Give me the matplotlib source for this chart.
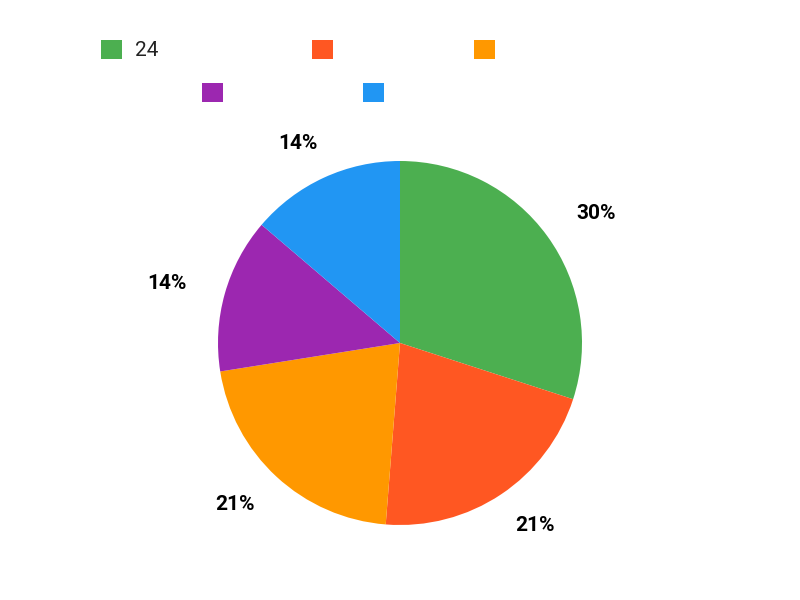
import numpy as np
import matplotlib
matplotlib.use("Agg")
import matplotlib.pyplot as plt
from matplotlib.patches import Patch

labels = ["24", "", "", "", ""]
values = [24, 17, 17, 11, 11]
colors = ["#4CAF50", "#FF5722", "#FF9800", "#9C27B0", "#2196F3"]

plt.rcParams['font.family'] = ['Roboto', 'DejaVu Sans']

W, H = 800, 600
fig = plt.figure(figsize=(8, 6), dpi=100)
cx, cy, r = 400, 343, 182
ax = fig.add_axes([(cx - r) / W, (H - cy - r) / H, 2 * r / W, 2 * r / H])
wedges, texts, autotexts = ax.pie(
    values, colors=colors, startangle=90, counterclock=False,
    autopct=lambda p: f"{p:.0f}%", pctdistance=1.2,
    wedgeprops=dict(linewidth=0), radius=1.0)
for t in autotexts:
    t.set_fontsize(15)
    t.set_fontweight('bold')
    t.set_color('#000000')
ax.set_xlim(-1, 1)
ax.set_ylim(-1, 1)
ax.set_aspect('equal')
ax.axis('off')

# place each label outside the pie, pushed sideways by part of its width
fig.canvas.draw()
renderer = fig.canvas.get_renderer()
dist = 220 / r
for w, t in zip(wedges, autotexts):
    ang = np.deg2rad((w.theta1 + w.theta2) / 2)
    dx, dy = np.cos(ang), np.sin(ang)
    bb = t.get_window_extent(renderer)
    hw = bb.width / 2 / r
    shift = hw * dx + np.sign(dx) * 2 / r
    t.set_position((dist * dx + shift, dist * dy))

# legend entries in a centred flow layout
pos = [(101, 50), (312, 50), (474, 50), (202, 93), (363, 93)]
fs = 15
fs_px = fs * 100 / 72
for (lx, ly), lab, col in zip(pos, labels, colors):
    leg = fig.legend(handles=[Patch(facecolor=col, edgecolor='none')], labels=[lab],
                     loc='center left', bbox_to_anchor=(lx / W, (H - ly) / H),
                     frameon=False, fontsize=fs, borderpad=0, borderaxespad=0,
                     handlelength=21 / fs_px, handleheight=21 / fs_px,
                     handletextpad=13 / fs_px)
    for t in leg.get_texts():
        t.set_color('#222222')

fig.savefig("out.png", dpi=100)
